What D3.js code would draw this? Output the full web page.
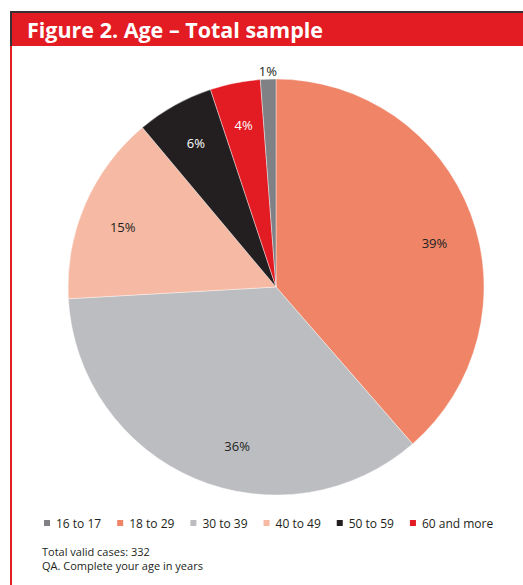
<!DOCTYPE html>
<html>
<head>
<meta charset="utf-8">
<script src="https://d3js.org/d3.v7.min.js"></script>
<style>
  body { margin: 0; background: #fff; }
  text { font-family: "Open Sans", "Noto Sans", sans-serif; }
</style>
</head>
<body>
<svg width="523" height="585"></svg>

<script>
  // Data (share of respondents, %)
  const ageGroups = ['16 to 17', '18 to 29', '30 to 39', '40 to 49', '50 to 59', '60 and more'];
  const shares    = [1.2, 38.6, 35.5, 14.8, 6.0, 3.9];
  const shareLabels = ['1%', '39%', '36%', '15%', '6%', '4%'];
  const colours   = ['#808184', '#ef8467', '#bcbdc0', '#f6b9a3', '#231f20', '#e31b23'];
  // drawing order clockwise from 12 o'clock
  const sliceOrder = [1, 2, 3, 4, 5, 0];

  const svg = d3.select('svg');

  // Title bar
  svg.append('rect')
    .attr('x', 10).attr('y', 11)
    .attr('width', 513).attr('height', 35)
    .style('fill', '#e31b23');
  svg.append('rect')
    .attr('x', 10).attr('y', 11)
    .attr('width', 513).attr('height', 2)
    .style('fill', '#3a3032');
  svg.append('rect')
    .attr('x', 10).attr('y', 11)
    .attr('width', 2).attr('height', 35)
    .style('fill', '#3a3032');
  svg.append('text')
    .attr('x', 27).attr('y', 38)
    .attr('textLength', 296)
    .attr('lengthAdjust', 'spacingAndGlyphs')
    .style('font-size', '21px')
    .style('font-weight', 'bold')
    .style('fill', '#fff')
    .text('Figure 2. Age \u2013 Total sample');

  // left red rule
  svg.append('rect')
    .attr('x', 10).attr('y', 46)
    .attr('width', 2).attr('height', 539)
    .style('fill', '#e31b23');

  // Pie
  const cx = 276, cy = 287, r = 208;
  const pieData = sliceOrder.map(i => ({ i: i, value: shares[i] }));
  const pie = d3.pie().value(d => d.value).sort(null);
  const arcs = pie(pieData);
  const arc = d3.arc().innerRadius(0).outerRadius(r);

  const g = svg.append('g').attr('transform', `translate(${cx},${cy})`);

  g.selectAll('path')
    .data(arcs)
    .join('path')
    .attr('d', arc)
    .style('fill', d => colours[d.data.i])
    .style('stroke', '#fff')
    .style('stroke-width', 0.4);

  // small angle shifts (radians) for the labels, as placed in the original
  const labelShift = [0, 0.09, -0.16, -0.04, 0, 0];

  g.selectAll('text.lbl')
    .data(arcs)
    .join('text')
    .attr('class', 'lbl')
    .attr('transform', d => {
      const i = d.data.i;
      const a = (d.startAngle + d.endAngle) / 2 + labelShift[i];
      const rr = i === 0 ? r + 8 : r * 0.79;
      return `translate(${Math.sin(a) * rr},${-Math.cos(a) * rr})`;
    })
    .attr('text-anchor', 'middle')
    .attr('dy', '0.35em')
    .style('font-size', '13px')
    .style('fill', d => (d.data.i === 4 || d.data.i === 5) ? '#fff' : '#231f20')
    .text(d => shareLabels[d.data.i]);

  // Legend
  const legend = svg.append('g');
  let lx = 44;
  ageGroups.forEach((name, i) => {
    legend.append('rect')
      .attr('x', lx).attr('y', 520)
      .attr('width', 6).attr('height', 6)
      .style('fill', colours[i]);
    const t = legend.append('text')
      .attr('x', lx + 12).attr('y', 528)
      .style('font-size', '12px')
      .style('fill', '#231f20')
      .text(name);
    lx += 12 + t.node().getComputedTextLength() + 16;
  });

  // Notes
  svg.append('text')
    .attr('x', 42).attr('y', 556)
    .style('font-size', '11px')
    .style('fill', '#231f20')
    .text('Total valid cases: 332');
  svg.append('text')
    .attr('x', 42).attr('y', 570)
    .style('font-size', '11px')
    .style('fill', '#231f20')
    .text('QA. Complete your age in years');
</script>
</body>
</html>
